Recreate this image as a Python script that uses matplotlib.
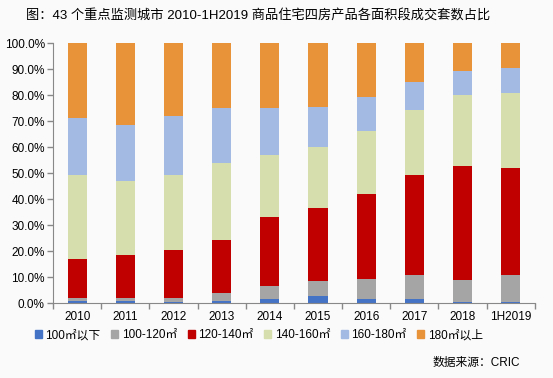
import numpy as np
import matplotlib.pyplot as plt
from matplotlib.patches import Patch

plt.rcParams['font.family'] = ['Liberation Sans', 'Noto Sans CJK SC', 'DejaVu Sans']

years = ['2010', '2011', '2012', '2013', '2014', '2015', '2016', '2017', '2018', '1H2019']
labels = ['100㎡以下', '100-120㎡', '120-140㎡', '140-160㎡', '160-180㎡', '180㎡以上']
colors = ['#4472C4', '#A5A5A5', '#C00000', '#D5DEAC', '#A3BAE3', '#E8923A']

# shares in % per area band
under100 = [1.0, 1.0, 0.5, 1.0, 1.7, 2.8, 1.7, 1.7, 0.5, 0.5]
s100_120 = [1.0, 1.0, 1.5, 3.0, 5.0, 5.8, 7.6, 9.2, 8.5, 10.4]
s120_140 = [15.0, 16.6, 18.5, 20.3, 26.5, 28.1, 32.7, 38.4, 43.8, 41.1]
s140_160 = [32.3, 28.2, 28.8, 29.5, 23.8, 23.4, 24.3, 25.1, 27.3, 28.8]
s160_180 = [22.0, 21.6, 22.7, 21.3, 18.1, 15.3, 13.0, 10.7, 9.1, 9.7]
over180 = [28.7, 31.6, 28.0, 24.9, 24.9, 24.6, 20.7, 14.9, 10.8, 9.5]

series = [under100, s100_120, s120_140, s140_160, s160_180, over180]

fig = plt.figure(figsize=(5.53, 3.78), dpi=100, facecolor='#fafafa')
ax = fig.add_axes([0.096, 0.198, 0.871, 0.688])
ax.set_facecolor('#fafafa')

x = np.arange(len(years))
bottom = np.zeros(len(years))
for vals, c, lab in zip(series, colors, labels):
    ax.bar(x, vals, width=0.4, bottom=bottom, color=c, label=lab)
    bottom += np.array(vals)

ax.set_xlim(-0.5, len(years) - 0.5)
ax.set_ylim(0, 100)
ax.set_yticks(np.arange(0, 101, 10))
ax.set_yticklabels(['%.1f%%' % v for v in np.arange(0, 101, 10)], fontsize=8.5)
ax.set_xticks(x)
ax.set_xticklabels(years, fontsize=8.5)
ax.set_xticks(np.arange(-0.5, len(years)), minor=True)
ax.tick_params(axis='x', which='major', length=0, pad=6)
ax.tick_params(axis='x', which='minor', length=4, color='#888888', width=1)
ax.tick_params(axis='y', length=4, color='#888888', width=1, pad=2)
for s in ['top', 'right']:
    ax.spines[s].set_visible(False)
for s in ['left', 'bottom']:
    ax.spines[s].set_color('#888888')

handles = [Patch(color=c, label=l) for c, l in zip(colors, labels)]
fig.legend(handles=handles, loc='center', bbox_to_anchor=(0.468, 0.113), ncol=6,
           frameon=False, fontsize=8.5, handlelength=0.6, handleheight=0.6,
           handletextpad=0.3, columnspacing=0.9)

fig.text(0.466, 0.96, '图：43 个重点监测城市 2010-1H2019 商品住宅四房产品各面积段成交套数占比',
         ha='center', va='center', fontsize=9.5)
fig.text(0.94, 0.04, '数据来源：CRIC', ha='right', va='center', fontsize=8.5)

fig.savefig('out.png', dpi=100, facecolor=fig.get_facecolor())
